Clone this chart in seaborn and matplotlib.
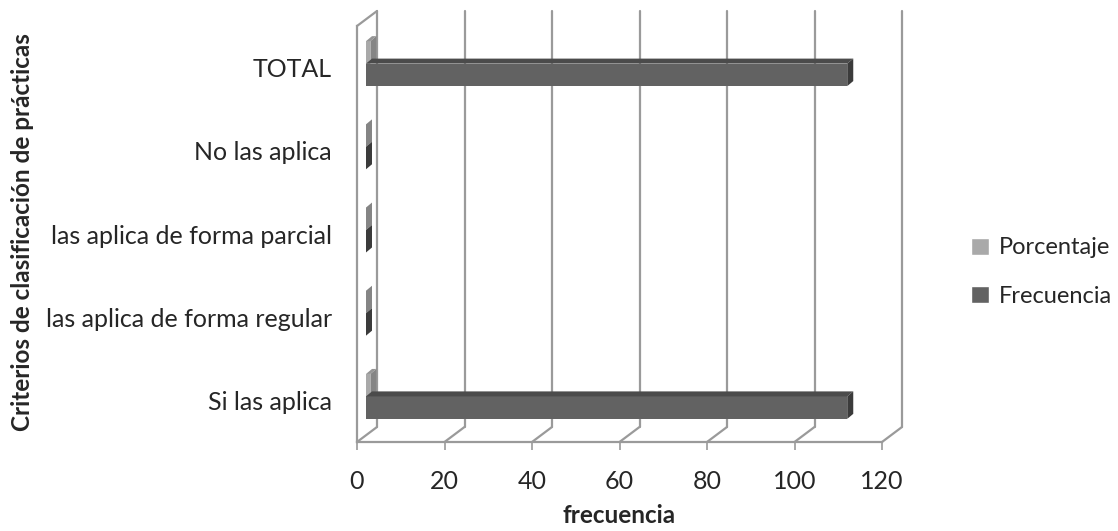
import matplotlib
matplotlib.use("Agg")
import matplotlib.pyplot as plt
import matplotlib.transforms as mtransforms
from matplotlib.patches import Polygon
import seaborn as sns
import pandas as pd

# data
categorias = ["Si las aplica", "las aplica de forma regular", "las aplica de forma parcial",
              "No las aplica", "TOTAL"]
frecuencia = [110, 0, 0, 0, 110]
porcentaje = [1, 0, 0, 0, 1]   # 100% como fraccion
series = ["Porcentaje", "Frecuencia"]
ticks_x = [0, 20, 40, 60, 80, 100, 120]

df = pd.DataFrame({
    "categoria": categorias * 2,
    "serie": ["Porcentaje"] * 5 + ["Frecuencia"] * 5,
    "valor": porcentaje + frecuencia,
})
orden = categorias[::-1]  # TOTAL arriba

sns.set_style("white")
plt.rcParams["font.family"] = ["Lato", "DejaVu Sans"]

W, H = 1118, 531
fig = plt.figure(figsize=(W / 100, H / 100), dpi=100)
ax = fig.add_axes([357 / W, 1 - 442 / H, (882 - 357) / W, (442 - 26) / H])

colores = {"Porcentaje": "#a9a9a9", "Frecuencia": "#626262"}
top_col = {"Porcentaje": "#959595", "Frecuencia": "#4b4b4b"}
side_col = {"Porcentaje": "#858585", "Frecuencia": "#3b3b3b"}

sns.barplot(data=df, y="categoria", x="valor", hue="serie", order=orden,
            hue_order=series, palette=colores, orient="h", width=0.54,
            saturation=1, ax=ax, legend=True)

ax.set_xlim(0, 120)
ax.set_ylim(4.5, -0.5)
ax.set_xticks(ticks_x)

gris = "#9a9a9a"
for s in ["top", "right"]:
    ax.spines[s].set_visible(False)
for s in ["left", "bottom"]:
    ax.spines[s].set_color(gris)
    ax.spines[s].set_linewidth(1.6)

ax.tick_params(axis="x", length=6, width=1.2, color=gris, pad=14, labelsize=18, bottom=True)
ax.tick_params(axis="y", length=0, pad=18, labelsize=18)
ax.set_xlabel("frecuencia", fontsize=17.5, fontweight="bold", labelpad=8)
ax.set_ylabel("Criterios de clasificación de prácticas", fontsize=17.5, fontweight="bold")
ax.yaxis.set_label_coords(34 / W, 1 - 232 / H, transform=fig.transFigure)

# back wall (3D depth offset)
dx, dy = 20, 15
back = mtransforms.offset_copy(ax.transData, fig=fig, x=dx, y=dy, units="dots")
for t in ticks_x:
    ax.plot([t, t], [4.5, -0.5], color=gris, lw=1.6, transform=back, clip_on=False, zorder=0)
    ax.annotate("", xy=(t, 4.5), xytext=(dx * 0.72, dy * 0.72), textcoords="offset points",
                arrowprops=dict(arrowstyle="-", color=gris, lw=1.6, shrinkA=0, shrinkB=0),
                annotation_clip=False)
ax.annotate("", xy=(0, -0.5), xytext=(dx * 0.72, dy * 0.72), textcoords="offset points",
            arrowprops=dict(arrowstyle="-", color=gris, lw=1.6, shrinkA=0, shrinkB=0),
            annotation_clip=False)

# bars sit at mid depth, with their own depth faces
shift = mtransforms.offset_copy(ax.transData, fig=fig, x=9, y=4, units="dots")
bdx, bdy = 6, 5
inv = fig.transFigure.inverted()
for cont, serie in zip(ax.containers, series):
    for bar in cont:
        bar.set_transform(shift)
        bar.set_edgecolor("none")
        x0, y0 = bar.get_x(), bar.get_y()
        x1, y1 = x0 + bar.get_width(), y0 + bar.get_height()
        (px0, py0), (px1, py1) = shift.transform([(x0, y0), (x1, y1)])
        ylo, yhi = min(py0, py1), max(py0, py1)
        topf = [(px0, yhi), (px1, yhi), (px1 + bdx, yhi + bdy), (px0 + bdx, yhi + bdy)]
        side = [(px1, ylo), (px1, yhi), (px1 + bdx, yhi + bdy), (px1 + bdx, ylo + bdy)]
        fig.add_artist(Polygon(inv.transform(topf), closed=True, facecolor=top_col[serie],
                               edgecolor="none"))
        fig.add_artist(Polygon(inv.transform(side), closed=True, facecolor=side_col[serie],
                               edgecolor="none"))

leg = ax.legend(title=None, frameon=False, fontsize=17, handlelength=0.75, handleheight=0.75,
                handletextpad=0.45, labelspacing=1.15, loc="center left", borderpad=0,
                borderaxespad=0, bbox_to_anchor=(971 / W, 1 - 272 / H),
                bbox_transform=fig.transFigure)

fig.savefig("out.png", dpi=100)
